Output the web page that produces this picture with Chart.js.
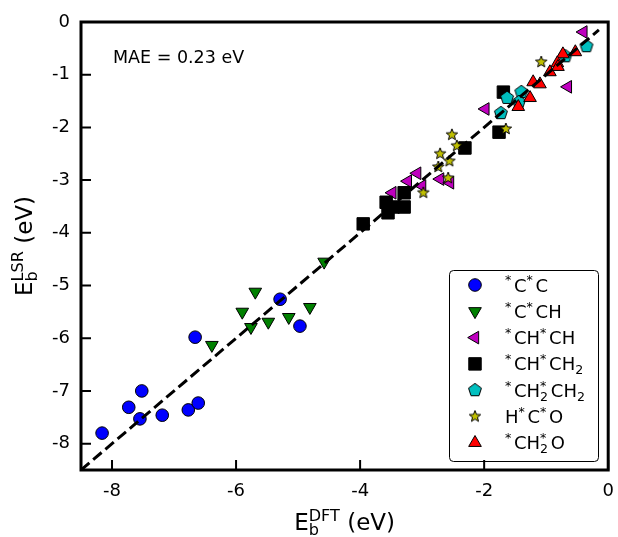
<!DOCTYPE html>
<html>
<head>
<meta charset="utf-8">
<script src="https://cdn.jsdelivr.net/npm/chart.js@4.4.0/dist/chart.umd.min.js"></script>
<style>
html, body { margin: 0; padding: 0; background: #fff; }
canvas { display: block; }
</style>
</head>
<body>
<canvas id="chart" width="618" height="537"></canvas>
<script>
// legend names, ^x = superscript, _x = subscript
const seriesNames = ["^*C^*C", "^*C^*CH", "^*CH^*CH", "^*CH^*CH_2", "^*CH_2^*CH_2", "H^*C^*O", "^*CH_2^*O"];

// *C*C
const ccX = [-8.16, -7.73, -7.52, -7.55, -7.19, -6.77, -6.61, -6.66, -5.29, -4.97];
const ccY = [-7.80, -7.31, -7.00, -7.53, -7.46, -7.36, -7.23, -5.98, -5.26, -5.77];
// *C*CH
const cchX = [-6.39, -5.90, -5.76, -5.69, -5.48, -5.15, -4.81, -4.58];
const cchY = [-6.13, -5.50, -5.79, -5.12, -5.69, -5.60, -5.41, -4.55];
// *CH*CH
const chchX = [-0.40, -0.65, -1.98, -3.08, -3.23, -2.71, -2.55, -3.00, -3.48];
const chchY = [-0.19, -1.23, -1.65, -2.87, -3.02, -2.98, -3.05, -3.11, -3.24];
// *CH*CH2
const chch2X = [-3.95, -3.58, -3.55, -3.47, -3.29, -3.29, -2.31, -1.76, -1.69];
const chch2Y = [-3.83, -3.42, -3.62, -3.51, -3.51, -3.24, -2.39, -2.09, -1.33];
// *CH2*CH2
const ch2ch2X = [-0.35, -0.69, -1.40, -1.44, -1.63, -1.73];
const ch2ch2Y = [-0.46, -0.65, -1.33, -1.52, -1.44, -1.73];
// H*C*O
const hcoX = [-1.08, -1.65, -2.52, -2.44, -2.71, -2.56, -2.74, -2.58, -2.98];
const hcoY = [-0.76, -2.03, -2.14, -2.35, -2.50, -2.64, -2.75, -2.96, -3.24];
// *CH2*O
const ch2oX = [-0.53, -0.73, -0.82, -0.81, -0.94, -1.21, -1.10, -1.26, -1.45];
const ch2oY = [-0.57, -0.61, -0.78, -0.85, -0.95, -1.14, -1.18, -1.44, -1.61];

const parityLine = [-8.5, -0.15];
const xTicks = [-8, -6, -4, -2, 0];
const yTicks = [-8, -7, -6, -5, -4, -3, -2, -1, 0];
const maeText = "MAE = 0.23 eV";
const xTitle = "E_{b}^{DFT} (eV)";
const yTitle = "E_{b}^{LSR} (eV)";

const FONT = '"DejaVu Sans", sans-serif';

function makeMarker(kind, fill) {
  const c = document.createElement("canvas");
  c.width = 18; c.height = 18;
  const g = c.getContext("2d");
  g.translate(9, 9);
  g.beginPath();
  if (kind === "pentagon") {
    const r = 6.8;
    for (let i = 0; i < 5; i++) {
      const a = -Math.PI / 2 + i * 2 * Math.PI / 5;
      g.lineTo(r * Math.cos(a), r * Math.sin(a));
    }
  } else {
    const ro = 6, ri = 2.6;
    for (let i = 0; i < 10; i++) {
      const r = i % 2 ? ri : ro;
      const a = -Math.PI / 2 + i * Math.PI / 5;
      g.lineTo(r * Math.cos(a), r * Math.sin(a));
    }
  }
  g.closePath();
  g.fillStyle = fill; g.fill();
  g.lineWidth = 1; g.strokeStyle = "#000"; g.stroke();
  return c;
}

const styles = [
  { color: "#0000ff", pointStyle: "circle", radius: 6.3, rotation: 0 },
  { color: "#008000", pointStyle: "triangle", radius: 7.3, rotation: 180 },
  { color: "#bf00bf", pointStyle: "triangle", radius: 7.3, rotation: 270 },
  { color: "#000000", pointStyle: "rect", radius: 8.8, rotation: 0 },
  { color: "#00bfbf", pointStyle: makeMarker("pentagon", "#00bfbf"), radius: 7, rotation: 0 },
  { color: "#bfbf00", pointStyle: makeMarker("star", "#bfbf00"), radius: 6, rotation: 0 },
  { color: "#ff0000", pointStyle: "triangle", radius: 7.3, rotation: 0 }
];

const xs = [ccX, cchX, chchX, chch2X, ch2ch2X, hcoX, ch2oX];
const ys = [ccY, cchY, chchY, chch2Y, ch2ch2Y, hcoY, ch2oY];

const datasets = seriesNames.map((name, i) => ({
  type: "scatter",
  label: name,
  data: xs[i].map((v, j) => ({ x: v, y: ys[i][j] })),
  backgroundColor: styles[i].color,
  borderColor: "#000",
  borderWidth: 1,
  pointStyle: styles[i].pointStyle,
  pointRadius: styles[i].radius,
  pointHoverRadius: styles[i].radius,
  rotation: styles[i].rotation,
  order: seriesNames.length - i
}));

datasets.push({
  type: "line",
  label: "parity",
  data: parityLine.map(v => ({ x: v, y: v })),
  borderColor: "#000",
  borderWidth: 3,
  borderDash: [11, 5],
  pointRadius: 0,
  fill: false,
  order: 0
});

function parseRich(s) {
  const out = [];
  for (let i = 0; i < s.length; i++) {
    const c = s[i];
    if (c === "^" || c === "_") {
      let t = s[i + 1];
      if (t === "{") {
        const end = s.indexOf("}", i + 2);
        t = s.slice(i + 2, end);
        i = end;
      } else i++;
      out.push({ t, k: c === "^" ? "sup" : "sub" });
    } else {
      out.push({ t: c, k: "n" });
    }
  }
  return out;
}

function drawRich(ctx, s, x, y, size, align) {
  const small = size * 0.7;
  const items = [];
  let w = 0, prev = null;
  parseRich(s).forEach(tk => {
    const fs = tk.k === "n" ? size : small;
    ctx.font = fs + "px " + FONT;
    const tw = ctx.measureText(tk.t).width;
    const dy = tk.k === "sup" ? -size * 0.4 : tk.k === "sub" ? size * 0.22 : 0;
    let px = w;
    if (tk.k === "sup" && prev && prev.k === "sub") {
      px = prev.x;
      w = Math.max(w, px + tw);
    } else {
      w += tw;
    }
    if (tk.k === "sup" && tk.t === "*") w += size * 0.15;
    const it = { t: tk.t, fs, x: px, dy, k: tk.k };
    items.push(it);
    prev = it;
  });
  const x0 = align === "center" ? x - w / 2 : x;
  ctx.textAlign = "left";
  ctx.textBaseline = "alphabetic";
  items.forEach(it => {
    ctx.font = it.fs + "px " + FONT;
    ctx.fillText(it.t, x0 + it.x, y + it.dy);
  });
}

function drawMarker(ctx, st, x, y) {
  const opts = {
    pointStyle: st.pointStyle, radius: st.radius, rotation: st.rotation, borderWidth: 1
  };
  ctx.save();
  ctx.fillStyle = st.color;
  ctx.strokeStyle = "#000";
  ctx.lineWidth = 1;
  Chart.helpers.drawPoint(ctx, opts, x, y);
  ctx.restore();
}

const decor = {
  id: "decor",
  afterDraw(chart) {
    const { ctx, chartArea: a, scales } = chart;
    ctx.save();
    ctx.fillStyle = "#000";

    // MAE annotation
    ctx.font = "17.5px " + FONT;
    ctx.textAlign = "left";
    ctx.textBaseline = "middle";
    ctx.fillText(maeText, a.left + 32, a.top + 36);

    // legend
    const lx = 449, ly = 270, lw = 149, lh = 191;
    ctx.beginPath();
    ctx.roundRect(lx + 0.5, ly + 0.5, lw, lh, 4);
    ctx.fillStyle = "#fff";
    ctx.fill();
    ctx.strokeStyle = "#000";
    ctx.lineWidth = 1;
    ctx.stroke();
    seriesNames.forEach((name, i) => {
      const cy = ly + 15 + i * 26.3;
      drawMarker(ctx, styles[i], lx + 26, cy);
      ctx.fillStyle = "#000";
      drawRich(ctx, name, lx + 56, cy + 6.5, 18, "left");
    });

    // inward ticks
    ctx.strokeStyle = "#000";
    ctx.lineWidth = 2;
    ctx.beginPath();
    scales.x.ticks.forEach(t => {
      const px = scales.x.getPixelForValue(t.value);
      ctx.moveTo(px, a.bottom);
      ctx.lineTo(px, a.bottom - 10);
    });
    scales.y.ticks.forEach(t => {
      const py = scales.y.getPixelForValue(t.value);
      ctx.moveTo(a.left, py);
      ctx.lineTo(a.left + 10, py);
    });
    ctx.stroke();

    // frame
    ctx.lineWidth = 3;
    ctx.strokeRect(a.left, a.top, a.right - a.left, a.bottom - a.top);

    // axis titles
    ctx.fillStyle = "#000";
    drawRich(ctx, xTitle, (a.left + a.right) / 2, 530, 23, "center");
    ctx.translate(24, (a.top + a.bottom) / 2);
    ctx.rotate(-Math.PI / 2);
    drawRich(ctx, yTitle, 0, 8, 23, "center");
    ctx.restore();
  }
};

new Chart(document.getElementById("chart"), {
  type: "scatter",
  data: { datasets },
  options: {
    responsive: false,
    animation: false,
    events: [],
    layout: { padding: { top: 22, right: 9, left: 0, bottom: 0 } },
    plugins: { legend: { display: false }, tooltip: { enabled: false } },
    scales: {
      x: {
        type: "linear",
        min: -8.5,
        max: 0,
        afterBuildTicks: s => { s.ticks = xTicks.map(v => ({ value: v })); },
        afterFit: s => { s.height = 67; s.paddingLeft = 0; s.paddingRight = 0; },
        grid: { display: false, drawTicks: false },
        border: { display: false },
        ticks: { color: "#000", font: { family: FONT, size: 18 }, padding: 11, maxRotation: 0 }
      },
      y: {
        type: "linear",
        min: -8.5,
        max: 0,
        afterBuildTicks: s => { s.ticks = yTicks.map(v => ({ value: v })); },
        afterFit: s => { s.width = 81; s.paddingTop = 0; s.paddingBottom = 0; },
        grid: { display: false, drawTicks: false },
        border: { display: false },
        ticks: { color: "#000", font: { family: FONT, size: 18 }, padding: 11 }
      }
    }
  },
  plugins: [decor]
});
</script>
</body>
</html>
